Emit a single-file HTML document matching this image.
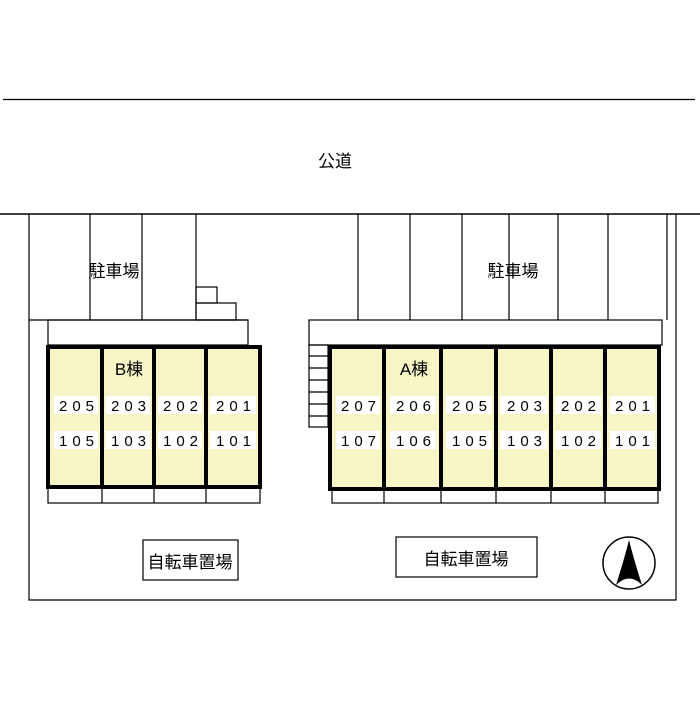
<!DOCTYPE html>
<html><head><meta charset="utf-8"><style>
body{margin:0;background:#fff}
svg text{font-family:"Liberation Sans","Noto Sans CJK JP",sans-serif;fill:#000}
</style></head><body>
<svg width="700" height="700" viewBox="0 0 700 700" xmlns="http://www.w3.org/2000/svg">
<g stroke="#000" stroke-width="1.2" fill="none">
<line x1="3" y1="99.5" x2="695" y2="99.5"/>
<line x1="0" y1="214" x2="700" y2="214" stroke-width="1.6"/>
<polyline points="29,214 29,600 676,600 676,214"/>
<line x1="90" y1="214" x2="90" y2="320"/>
<line x1="142" y1="214" x2="142" y2="320"/>
<line x1="196" y1="214" x2="196" y2="320"/>
<line x1="29" y1="320" x2="248" y2="320"/>
<rect x="196" y="287" width="21" height="16"/>
<rect x="196" y="303" width="40" height="17"/>
<rect x="48" y="320" width="200" height="25"/>
<line x1="358" y1="214" x2="358" y2="320"/>
<line x1="410" y1="214" x2="410" y2="320"/>
<line x1="462" y1="214" x2="462" y2="320"/>
<line x1="509" y1="214" x2="509" y2="320"/>
<line x1="558" y1="214" x2="558" y2="320"/>
<line x1="608" y1="214" x2="608" y2="320"/>
<line x1="667" y1="214" x2="667" y2="320"/>
<rect x="309" y="320" width="353" height="25"/>
<rect x="309" y="345" width="19" height="82"/>
<line x1="309" y1="356" x2="328" y2="356"/>
<line x1="309" y1="368" x2="328" y2="368"/>
<line x1="309" y1="380" x2="328" y2="380"/>
<line x1="309" y1="392" x2="328" y2="392"/>
<line x1="309" y1="404" x2="328" y2="404"/>
<line x1="309" y1="416" x2="328" y2="416"/>
<rect x="48" y="487" width="212" height="16"/>
<line x1="102" y1="487" x2="102" y2="503"/><line x1="154" y1="487" x2="154" y2="503"/><line x1="206" y1="487" x2="206" y2="503"/>
<rect x="332" y="489" width="326" height="14"/>
<line x1="384" y1="489" x2="384" y2="503"/><line x1="441" y1="489" x2="441" y2="503"/><line x1="496" y1="489" x2="496" y2="503"/><line x1="551" y1="489" x2="551" y2="503"/><line x1="605" y1="489" x2="605" y2="503"/>
<rect x="143" y="540" width="95" height="40"/>
<rect x="396" y="537" width="141" height="40"/>
<circle cx="629" cy="563" r="26" stroke-width="1.5"/>
</g>
<g stroke="#000" stroke-width="4" fill="#f7f5c6">
<rect x="48" y="347" width="212" height="140"/>
<rect x="330" y="347" width="329" height="142"/>
</g>
<g stroke="#000" stroke-width="4">
<line x1="102" y1="347" x2="102" y2="487"/><line x1="154" y1="347" x2="154" y2="487"/><line x1="206" y1="347" x2="206" y2="487"/>
<line x1="384" y1="347" x2="384" y2="489"/><line x1="441" y1="347" x2="441" y2="489"/><line x1="496" y1="347" x2="496" y2="489"/><line x1="551" y1="347" x2="551" y2="489"/><line x1="605" y1="347" x2="605" y2="489"/>
</g>
<g fill="#fff">
<rect x="54" y="396" width="44" height="18"/><rect x="106" y="396" width="44" height="18"/><rect x="158" y="396" width="44" height="18"/><rect x="210" y="396" width="46" height="18"/>
<rect x="54" y="431" width="44" height="18"/><rect x="106" y="431" width="44" height="18"/><rect x="158" y="431" width="44" height="18"/><rect x="210" y="431" width="46" height="18"/>
<rect x="336" y="396" width="44" height="18"/><rect x="390" y="396" width="46" height="18"/><rect x="446" y="396" width="46" height="18"/><rect x="500" y="396" width="47" height="18"/><rect x="555" y="396" width="46" height="18"/><rect x="610" y="396" width="45" height="18"/>
<rect x="336" y="431" width="44" height="18"/><rect x="390" y="431" width="46" height="18"/><rect x="446" y="431" width="46" height="18"/><rect x="500" y="431" width="47" height="18"/><rect x="555" y="431" width="46" height="18"/><rect x="610" y="431" width="45" height="18"/>
</g>
<g font-size="15" text-anchor="middle" letter-spacing="5">
<text x="79" y="411">205</text><text x="131" y="411">203</text><text x="183" y="411">202</text><text x="236" y="411">201</text>
<text x="79" y="446">105</text><text x="131" y="446">103</text><text x="183" y="446">102</text><text x="236" y="446">101</text>
<text x="361" y="411">207</text><text x="416" y="411">206</text><text x="472" y="411">205</text><text x="527" y="411">203</text><text x="581" y="411">202</text><text x="635" y="411">201</text>
<text x="361" y="446">107</text><text x="416" y="446">106</text><text x="472" y="446">105</text><text x="527" y="446">103</text><text x="581" y="446">102</text><text x="635" y="446">101</text>
</g>
<g font-size="17" text-anchor="middle">
<text x="335" y="167">公道</text>
<text x="114" y="277">駐車場</text>
<text x="513" y="277">駐車場</text>
<text x="129" y="375">B棟</text>
<text x="414" y="375">A棟</text>
<text x="190" y="568">自転車置場</text>
<text x="466" y="565">自転車置場</text>
</g>
<path d="M629,540 Q624,560 616,585 Q629,572 642,585 Q634,560 629,540Z" fill="#000"/>
</svg>
</body></html>
